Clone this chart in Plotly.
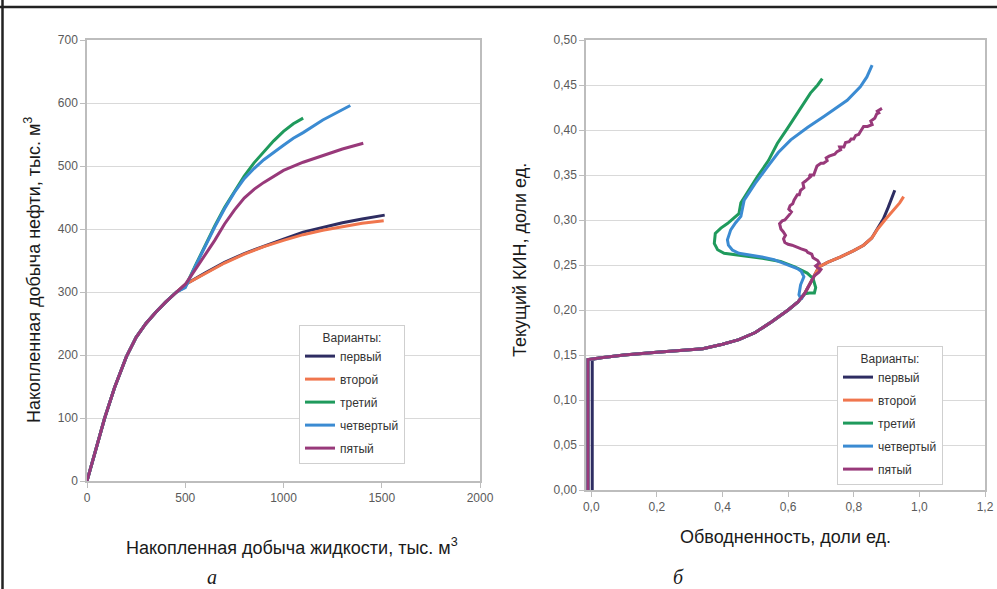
import plotly.graph_objects as go

W, H = 997, 589

names = ["первый", "второй", "третий", "четвертый", "пятый"]
colors = ["#2e2d62", "#f0764e", "#1f9a5c", "#3b8bd2", "#98397a"]

# ---- (а) cumulative liquid vs cumulative oil production, thousand m3 ----
liq_common = [0, 45, 90, 140, 200, 250, 300, 350, 400, 456]
oil_common = [0, 50, 100, 148, 197, 228, 250, 268, 284, 300]

liq_1 = [500, 600, 700, 800, 900, 1000, 1100, 1200, 1300, 1400, 1515]
oil_1 = [312, 330, 347, 361, 373, 384, 395, 403, 410, 416, 422]
liq_2 = [500, 600, 700, 800, 900, 1000, 1100, 1200, 1300, 1400, 1510]
oil_2 = [312, 329, 346, 360, 372, 382, 391, 398, 404, 409, 413]
liq_3 = [500, 550, 600, 650, 700, 750, 800, 850, 900, 950, 1000, 1050, 1100]
oil_3 = [308, 341, 374, 405, 434, 460, 484, 505, 523, 540, 555, 567, 576]
liq_4 = [500, 550, 600, 650, 700, 750, 800, 850, 900, 950, 1000, 1050, 1100, 1200, 1270, 1340]
oil_4 = [307, 340, 372, 403, 432, 458, 480, 496, 510, 522, 533, 544, 553, 573, 585, 596]
liq_5 = [500, 550, 600, 650, 700, 750, 800, 850, 900, 950, 1000, 1100, 1200, 1300, 1406]
oil_5 = [312, 335, 358, 382, 408, 430, 449, 463, 474, 484, 493, 506, 516, 527, 536]

# ---- (б) water cut vs current oil recovery factor ----
wc_start = [0.003, -0.010, -0.010, -0.010, -0.010]
kin_vertical = [0.0, 0.145]
wc_common = [0.03, 0.10, 0.20, 0.30, 0.34, 0.40, 0.45, 0.50, 0.55, 0.60, 0.63, 0.65]
kin_common = [0.147, 0.150, 0.153, 0.156, 0.157, 0.162, 0.167, 0.175, 0.187, 0.200, 0.209, 0.218]

wc_12 = [0.665, 0.678, 0.694, 0.72, 0.76, 0.80, 0.83, 0.855, 0.871]
kin_12 = [0.228, 0.237, 0.248, 0.253, 0.259, 0.266, 0.272, 0.280, 0.289]
wc_1 = [0.89, 0.905, 0.915, 0.925]
kin_1 = [0.301, 0.314, 0.324, 0.333]
wc_2 = [0.895, 0.92, 0.94, 0.952]
kin_2 = [0.300, 0.310, 0.319, 0.326]
wc_3 = [0.665, 0.680, 0.684, 0.676, 0.658, 0.62, 0.577, 0.53, 0.486, 0.44, 0.405, 0.385,
        0.375, 0.378, 0.395, 0.415, 0.435, 0.450, 0.456, 0.48, 0.506, 0.54, 0.567, 0.60,
        0.628, 0.65, 0.668, 0.69, 0.704]
kin_3 = [0.219, 0.219, 0.225, 0.235, 0.241, 0.248, 0.254, 0.257, 0.259, 0.261, 0.263, 0.267,
         0.274, 0.285, 0.291, 0.296, 0.302, 0.307, 0.319, 0.333, 0.348, 0.366, 0.385, 0.403,
         0.4186, 0.430, 0.441, 0.450, 0.457]
wc_4 = [0.640, 0.633, 0.638, 0.648, 0.640, 0.628, 0.60, 0.557, 0.52, 0.476, 0.45, 0.43,
        0.418, 0.415, 0.425, 0.44, 0.456, 0.466, 0.50, 0.537, 0.57, 0.608, 0.66, 0.709,
        0.745, 0.78, 0.82, 0.84, 0.856]
kin_4 = [0.212, 0.217, 0.228, 0.237, 0.243, 0.246, 0.250, 0.256, 0.259, 0.261, 0.263, 0.2667,
         0.272, 0.278, 0.289, 0.297, 0.304, 0.322, 0.341, 0.359, 0.375, 0.389, 0.403, 0.415,
         0.424, 0.433, 0.448, 0.459, 0.472]
wc_5 = [0.665, 0.680, 0.694, 0.700, 0.690, 0.684, 0.695, 0.690, 0.676, 0.672,
        0.660, 0.655, 0.640, 0.628, 0.612, 0.600, 0.590, 0.586, 0.592, 0.585,
        0.578, 0.574, 0.582, 0.590, 0.598, 0.604, 0.610, 0.602, 0.606, 0.614,
        0.618, 0.628, 0.634, 0.638, 0.648, 0.645, 0.652, 0.658, 0.668, 0.664,
        0.678, 0.684, 0.688, 0.700, 0.708, 0.719, 0.716, 0.725, 0.735, 0.742,
        0.749, 0.760, 0.757, 0.770, 0.775, 0.786, 0.792, 0.800, 0.806, 0.815,
        0.820, 0.830, 0.842, 0.856, 0.852, 0.864, 0.870, 0.876, 0.872, 0.886]
kin_5 = [0.228, 0.238, 0.242, 0.245, 0.247, 0.249, 0.252, 0.255, 0.258, 0.262,
         0.264, 0.266, 0.268, 0.270, 0.272, 0.273, 0.275, 0.279, 0.283, 0.287,
         0.290, 0.296, 0.299, 0.300, 0.303, 0.306, 0.309, 0.312, 0.316, 0.318,
         0.322, 0.328, 0.328, 0.333, 0.336, 0.341, 0.343, 0.345, 0.348, 0.350,
         0.350, 0.356, 0.360, 0.363, 0.363, 0.366, 0.369, 0.371, 0.372, 0.373,
         0.376, 0.378, 0.381, 0.381, 0.386, 0.387, 0.390, 0.390, 0.394, 0.395,
         0.398, 0.404, 0.404, 0.406, 0.410, 0.413, 0.418, 0.419, 0.421, 0.424]

left_x = [liq_common + t for t in (liq_1, liq_2, liq_3, liq_4, liq_5)]
left_y = [oil_common + t for t in (oil_1, oil_2, oil_3, oil_4, oil_5)]

right_tails_x = [wc_12 + wc_1, wc_12 + wc_2, wc_3, wc_4, wc_5]
right_tails_y = [kin_12 + kin_1, kin_12 + kin_2, kin_3, kin_4, kin_5]
right_x = [[s, s] + wc_common + t for s, t in zip(wc_start, right_tails_x)]
right_y = [kin_vertical + kin_common + t for t in right_tails_y]


def px(v):
    return v / W


def py(v):
    return 1 - v / H


FONT = "Liberation Sans, Arial, sans-serif"

fig = go.Figure()
for i, name in enumerate(names):
    fig.add_trace(go.Scatter(
        x=left_x[i], y=left_y[i], mode="lines", name=name,
        line=dict(color=colors[i], width=3), xaxis="x", yaxis="y",
        legend="legend", legendgroup="a%d" % i))
for i, name in enumerate(names):
    fig.add_trace(go.Scatter(
        x=right_x[i], y=right_y[i], mode="lines", name=name,
        line=dict(color=colors[i], width=3), xaxis="x2", yaxis="y2",
        legend="legend2", legendgroup="b%d" % i))

tick_font = dict(family=FONT, size=12, color="#5a5a5a")
axis_style = dict(showline=True, linecolor="#bdbdbd", linewidth=1.5, mirror=True,
                  gridcolor="#d9d9d9", gridwidth=1, zeroline=False, automargin=False,
                  ticks="outside", ticklen=5, tickcolor="#bdbdbd", tickfont=tick_font)

legend_style = dict(xanchor="left", yanchor="top", bgcolor="white",
                    bordercolor="#cfcfcf", borderwidth=1, tracegroupgap=4,
                    font=dict(family=FONT, size=12, color="#333"),
                    title=dict(text="Варианты:", side="top center",
                               font=dict(family=FONT, size=12, color="#333")))

fig.update_layout(
    template="none",
    width=W, height=H, autosize=False, margin=dict(l=0, r=0, t=0, b=0, pad=0),
    paper_bgcolor="white", plot_bgcolor="white",
    font=dict(family=FONT, color="#333"),
    separators=", ",
    xaxis=dict(domain=[px(87), px(480)], range=[0, 2000], dtick=500,
               showgrid=False, anchor="y", **axis_style),
    yaxis=dict(domain=[py(481), py(40)], range=[0, 700], dtick=100,
               showgrid=True, anchor="x", **axis_style),
    xaxis2=dict(domain=[px(586), px(985)], range=[-0.016, 1.2], tick0=0, dtick=0.2,
                tickformat=".1f", showgrid=False, anchor="y2", **axis_style),
    yaxis2=dict(domain=[py(490), py(40)], range=[0, 0.5], dtick=0.05,
                tickformat=".2f", showgrid=True, anchor="x2", **axis_style),
    legend=dict(x=px(299), y=py(325), **legend_style),
    legend2=dict(x=px(837), y=py(346), **legend_style),
)

title_font = dict(family=FONT, size=18, color="#1a1a1a")
label_font = dict(family="Liberation Serif, Times New Roman, serif", size=20, color="#1a1a1a")
annotations = [
    dict(text="Накопленная добыча жидкости, тыс. м<sup>3</sup>", x=px(292), y=py(546),
         font=title_font),
    dict(text="Накопленная добыча нефти, тыс. м<sup>3</sup>", x=px(32), y=py(270),
         textangle=-90, font=title_font),
    dict(text="Обводненность, доли ед.", x=px(785), y=py(537), font=title_font),
    dict(text="Текущий КИН, доли ед.", x=px(520), y=py(260), textangle=-90, font=title_font),
    dict(text="<i>а</i>", x=px(212), y=py(577), font=label_font),
    dict(text="<i>б</i>", x=px(678), y=py(577), font=label_font),
]
for a in annotations:
    fig.add_annotation(xref="paper", yref="paper", showarrow=False,
                       xanchor="center", yanchor="middle", **a)

# outer frame lines
fig.add_shape(type="line", xref="paper", yref="paper", x0=0, x1=1, y0=py(7), y1=py(7),
              line=dict(color="#222", width=2.5))
fig.add_shape(type="line", xref="paper", yref="paper", x0=px(2.5), x1=px(2.5), y0=0, y1=1,
              line=dict(color="#222", width=2.5))

fig.write_html("out.html")
